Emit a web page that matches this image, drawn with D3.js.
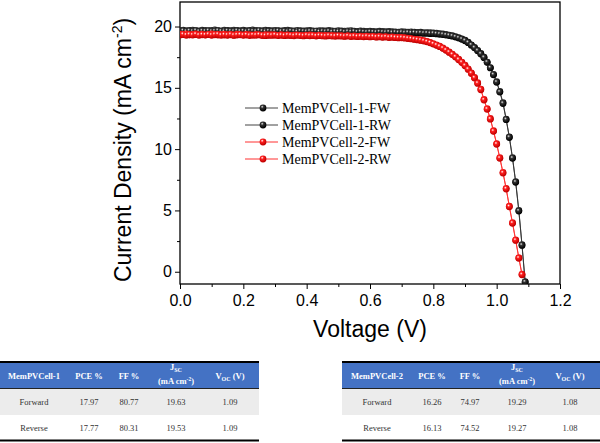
<!DOCTYPE html>
<html><head><meta charset="utf-8">
<script src="https://cdn.jsdelivr.net/npm/d3@7"></script>
<style>html,body{margin:0;padding:0;background:#fff;}svg{display:block;}</style>
</head><body>
<svg id="c" width="600" height="443"></svg>
<script>
const voltage = [0.00,0.01,0.02,0.03,0.04,0.05,0.06,0.07,0.08,0.09,0.10,0.11,0.12,0.13,0.14,0.15,0.16,0.17,0.18,0.19,0.20,0.21,0.22,0.23,0.24,0.25,0.26,0.27,0.28,0.29,0.30,0.31,0.32,0.33,0.34,0.35,0.36,0.37,0.38,0.39,0.40,0.41,0.42,0.43,0.44,0.45,0.46,0.47,0.48,0.49,0.50,0.51,0.52,0.53,0.54,0.55,0.56,0.57,0.58,0.59,0.60,0.61,0.62,0.63,0.64,0.65,0.66,0.67,0.68,0.69,0.70,0.71,0.72,0.73,0.74,0.75,0.76,0.77,0.78,0.79,0.80,0.81,0.82,0.83,0.84,0.85,0.86,0.87,0.88,0.89,0.90,0.91,0.92,0.93,0.94,0.95,0.96,0.97,0.98,0.99,1.00,1.01,1.02,1.03,1.04,1.05,1.06,1.07,1.08,1.09];

const cell1FW = [19.68,19.70,19.66,19.69,19.71,19.67,19.65,19.70,19.68,19.66,
19.69,19.72,19.67,19.65,19.70,19.68,19.66,19.71,19.69,19.67,
19.70,19.66,19.68,19.72,19.69,19.65,19.67,19.70,19.68,19.66,
19.69,19.67,19.64,19.68,19.70,19.66,19.65,19.69,19.67,19.64,
19.66,19.68,19.65,19.63,19.67,19.66,19.64,19.68,19.65,19.63,
19.66,19.64,19.62,19.65,19.67,19.63,19.61,19.64,19.62,19.60,
19.63,19.61,19.59,19.62,19.60,19.58,19.61,19.59,19.57,19.55,
19.58,19.56,19.54,19.57,19.55,19.52,19.54,19.51,19.49,19.50,
19.48,19.45,19.42,19.39,19.35,19.30,19.25,19.18,19.10,19.00,
18.88,18.72,18.50,18.30,18.05,17.80,17.50,17.10,16.65,16.10,
15.50,14.70,13.80,12.45,11.00,9.30,7.35,5.00,2.20,-0.80];

const cell1RW = [19.62,19.65,19.60,19.64,19.61,19.66,19.59,19.63,19.61,19.65,
19.60,19.63,19.66,19.61,19.59,19.64,19.62,19.60,19.65,19.61,
19.63,19.59,19.64,19.62,19.60,19.66,19.61,19.58,19.63,19.61,
19.59,19.64,19.60,19.62,19.58,19.63,19.60,19.57,19.62,19.60,
19.58,19.61,19.59,19.62,19.57,19.60,19.58,19.61,19.56,19.59,
19.57,19.60,19.55,19.58,19.56,19.59,19.54,19.57,19.55,19.53,
19.56,19.54,19.52,19.55,19.53,19.51,19.54,19.50,19.52,19.49,
19.51,19.48,19.50,19.47,19.49,19.46,19.47,19.44,19.45,19.42,
19.43,19.40,19.37,19.34,19.30,19.26,19.21,19.14,19.06,18.96,
18.84,18.68,18.48,18.26,18.02,17.76,17.46,17.08,16.62,16.06,
15.45,14.65,13.72,12.40,10.95,9.25,7.30,4.95,2.15,-0.85];

const cell2FW = [19.38,19.35,19.40,19.33,19.36,19.39,19.34,19.37,19.32,19.36,
19.39,19.34,19.30,19.36,19.38,19.33,19.35,19.31,19.37,19.34,
19.32,19.36,19.33,19.30,19.35,19.32,19.29,19.34,19.31,19.33,
19.30,19.28,19.33,19.29,19.31,19.27,19.30,19.32,19.28,19.26,
19.29,19.31,19.27,19.25,19.30,19.26,19.28,19.24,19.27,19.25,
19.23,19.26,19.22,19.25,19.21,19.24,19.20,19.22,19.19,19.21,
19.18,19.20,19.16,19.19,19.15,19.17,19.13,19.15,19.11,19.12,
19.12,19.09,19.05,19.02,18.98,18.94,18.90,18.85,18.78,18.70,
18.60,18.50,18.40,18.25,18.10,17.92,17.75,17.55,17.33,17.10,
16.85,16.55,16.22,15.85,15.42,14.90,14.05,13.30,12.50,11.50,
10.45,9.30,8.10,6.80,5.35,4.00,2.60,1.15,-0.20];

const cell2RW = [19.31,19.34,19.29,19.33,19.30,19.35,19.28,19.32,19.30,19.34,
19.29,19.33,19.35,19.28,19.31,19.29,19.33,19.27,19.30,19.32,
19.28,19.31,19.26,19.30,19.28,19.32,19.27,19.25,19.29,19.27,
19.31,19.26,19.28,19.25,19.29,19.27,19.24,19.28,19.26,19.23,
19.27,19.24,19.26,19.22,19.25,19.23,19.21,19.25,19.22,19.20,
19.24,19.21,19.19,19.22,19.18,19.20,19.17,19.19,19.16,19.18,
19.15,19.17,19.13,19.15,19.12,19.14,19.10,19.12,19.09,19.07,
19.08,19.05,19.02,18.99,18.95,18.91,18.87,18.82,18.75,18.67,
18.57,18.47,18.36,18.22,18.06,17.89,17.71,17.51,17.29,17.06,
16.80,16.50,16.17,15.80,15.36,14.84,14.00,13.25,12.44,11.45,
10.40,9.25,8.05,6.75,5.30,3.95,2.55,1.10,-0.25];

const seriesNames = ["MemPVCell-1-FW","MemPVCell-1-RW","MemPVCell-2-FW","MemPVCell-2-RW"];
const seriesColors = ["#000000","#000000","#ff0000","#ff0000"];
const xTicks = [0.0,0.2,0.4,0.6,0.8,1.0,1.2];
const xMinorTicks = [0.1,0.3,0.5,0.7,0.9,1.1];
const yTicks = [0,5,10,15,20];
const yMinorTicks = [2.5,7.5,12.5,17.5];

const table1Header = ["MemPVCell-1","PCE %","FF %","JSC","VOC"];
const table1Forward = ["Forward","17.97","80.77","19.63","1.09"];
const table1Reverse = ["Reverse","17.77","80.31","19.53","1.09"];
const table2Header = ["MemPVCell-2","PCE %","FF %","JSC","VOC"];
const table2Forward = ["Forward","16.26","74.97","19.29","1.08"];
const table2Reverse = ["Reverse","16.13","74.52","19.27","1.08"];

const svg = d3.select("#c");
const defs = svg.append("defs");
function ballGrad(id, hi, mid, lo){
  const g = defs.append("radialGradient").attr("id", id).attr("cx","40%").attr("cy","35%").attr("r","60%").attr("fx","38%").attr("fy","30%");
  g.append("stop").attr("offset","0%").attr("stop-color",hi);
  g.append("stop").attr("offset","35%").attr("stop-color",mid);
  g.append("stop").attr("offset","100%").attr("stop-color",lo);
}
ballGrad("gBlack","#e8e8e8","#333","#000");
ballGrad("gRed","#ffffff","#ff2020","#c00000");

const x = d3.scaleLinear().domain([0,1.2]).range([180,560]);
const y = d3.scaleLinear().domain([-1,22]).range([284,2]);

// axes
const axisFont = "'Liberation Sans', Arial, sans-serif";
svg.append("g").attr("transform","translate(0,284)")
  .call(d3.axisBottom(x).tickValues(xTicks).tickSize(5).tickPadding(6).tickFormat(d3.format(".1f")));
svg.append("g").attr("transform","translate(0,284)")
  .call(d3.axisBottom(x).tickValues(xMinorTicks).tickSize(3).tickFormat(""));
svg.append("g").attr("transform","translate(180,0)")
  .call(d3.axisLeft(y).tickValues(yTicks).tickSize(5).tickPadding(3).tickFormat(d3.format("d")));
svg.append("g").attr("transform","translate(180,0)")
  .call(d3.axisLeft(y).tickValues(yMinorTicks).tickSize(3).tickFormat(""));
svg.selectAll(".domain").remove();
svg.selectAll(".tick line").attr("stroke","#000").attr("stroke-width",1);
svg.selectAll(".tick text").attr("font-family",axisFont).attr("font-size",16).attr("fill","#000");

svg.append("rect").attr("x",180).attr("y",2).attr("width",380).attr("height",282)
  .attr("fill","none").attr("stroke","#000").attr("stroke-width",1.3);

svg.append("text").attr("x",370).attr("y",337).attr("text-anchor","middle")
  .attr("font-family",axisFont).attr("font-size",23).text("Voltage (V)");
const yl = svg.append("text").attr("transform","translate(131,150) rotate(-90)")
  .attr("text-anchor","middle").attr("font-family",axisFont).attr("font-size",23);
yl.append("tspan").text("Current Density (mA cm");
yl.append("tspan").attr("font-size",14).attr("dy",-9).text("-2");
yl.append("tspan").attr("dy",9).text(")");

// curves
const allSeries = [cell1FW, cell1RW, cell2FW, cell2RW];
const clip = defs.append("clipPath").attr("id","plotclip");
clip.append("rect").attr("x",180).attr("y",2).attr("width",380).attr("height",282);
const plot = svg.append("g").attr("clip-path","url(#plotclip)");
const line = d3.line().x(d=>x(d[0])).y(d=>y(d[1]));
allSeries.forEach((s,i)=>{
  const pts = s.map((v,j)=>[voltage[j], v]);
  const col = seriesColors[i];
  plot.append("path").datum(pts).attr("d",line).attr("fill","none")
    .attr("stroke", col==="#000000" ? "#333" : "#ff3030").attr("stroke-width",0.9);
  plot.append("g").selectAll("circle").data(pts).join("circle")
    .attr("cx",d=>x(d[0])).attr("cy",d=>y(d[1])).attr("r",3.4)
    .attr("fill", col==="#000000" ? "url(#gBlack)" : "url(#gRed)");
});

// legend
const serif = "'Liberation Serif', 'Times New Roman', serif";
seriesNames.forEach((n,i)=>{
  const ly = 108 + i*17;
  const col = seriesColors[i];
  svg.append("line").attr("x1",245).attr("x2",278).attr("y1",ly).attr("y2",ly)
    .attr("stroke", col==="#000000" ? "#444" : "#ff3030").attr("stroke-width",1);
  svg.append("circle").attr("cx",263).attr("cy",ly).attr("r",3.4)
    .attr("fill", col==="#000000" ? "url(#gBlack)" : "url(#gRed)");
  svg.append("text").attr("x",282).attr("y",ly+5).attr("font-family",serif)
    .attr("font-size",14).attr("fill","#000").text(n);
});

// tables
function drawTable(x0, x1, header, rowF, rowR, colX){
  const g = svg.append("g");
  g.append("rect").attr("x",x0).attr("y",362).attr("width",x1-x0).attr("height",26).attr("fill","#4472c4");
  g.append("rect").attr("x",x0).attr("y",388).attr("width",x1-x0).attr("height",27).attr("fill","#ececec");
  g.append("line").attr("x1",x0).attr("x2",x1).attr("y1",362).attr("y2",362).attr("stroke","#000").attr("stroke-width",2);
  g.append("line").attr("x1",x0).attr("x2",x1).attr("y1",388.5).attr("y2",388.5).attr("stroke","#222").attr("stroke-width",1);
  g.append("line").attr("x1",x0).attr("x2",x1).attr("y1",440.5).attr("y2",440.5).attr("stroke","#000").attr("stroke-width",2);
  header.forEach((h,i)=>{
    const t = g.append("text").attr("x",colX[i]).attr("text-anchor","middle")
      .attr("font-family",serif).attr("font-weight","bold").attr("font-size",8.5).attr("fill","#fff");
    if (h==="JSC"){
      t.attr("y",370);
      t.append("tspan").text("J");
      t.append("tspan").attr("font-size",6).attr("dy",2).text("SC");
      const t2 = g.append("text").attr("x",colX[i]).attr("y",384).attr("text-anchor","middle")
        .attr("font-family",serif).attr("font-weight","bold").attr("font-size",8.5).attr("fill","#fff");
      t2.append("tspan").text("(mA cm");
      t2.append("tspan").attr("font-size",5.5).attr("dy",-3).text("-2");
      t2.append("tspan").attr("dy",3).text(")");
    } else if (h==="VOC"){
      t.attr("y",379);
      t.append("tspan").text("V");
      t.append("tspan").attr("font-size",6).attr("dy",2).text("OC");
      t.append("tspan").attr("dy",-2).text(" (V)");
    } else {
      t.attr("y",379).text(h);
    }
  });
  [rowF,rowR].forEach((r,k)=>{
    r.forEach((v,i)=>{
      g.append("text").attr("x",colX[i]).attr("y",k===0?405:431).attr("text-anchor","middle")
        .attr("font-family",serif).attr("font-size",8.5).attr("fill","#333").text(v);
    });
  });
}
drawTable(0,259,table1Header,table1Forward,table1Reverse,[34,89,129,176,230]);
drawTable(342,600,table2Header,table2Forward,table2Reverse,[377,432,470,517,570]);
</script>
</body></html>
